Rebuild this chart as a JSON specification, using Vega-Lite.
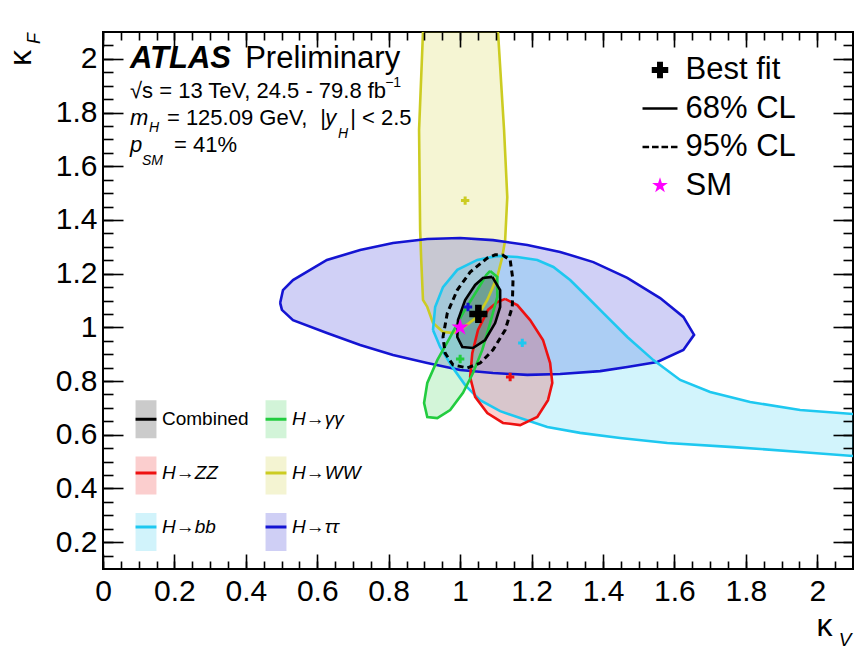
{
"$schema": "https://vega.github.io/schema/vega-lite/v6.json",
"width": 750, "height": 537,
"autosize": {"type": "none"},
"padding": {"left": 103, "top": 32, "right": 2, "bottom": 82},
"background": "white",
"config": {"font": "Liberation Sans", "view": {"stroke": "black", "strokeWidth": 2}, "axis": {"grid": false, "title": null}, "legend": {"title": null}},
"resolve": {"axis": {"x": "independent", "y": "independent"}},
"datasets": {
"keys": [{"key": "Best fit", "x": 1.051, "y": 1.05}, {"key": "SM", "x": 1.0, "y": 1.0}],
"fits": [
{"ch": "H→γγ", "x": 1.0, "y": 0.882},
{"ch": "H→ZZ", "x": 1.14, "y": 0.815},
{"ch": "H→WW", "x": 1.014, "y": 1.472},
{"ch": "H→bb", "x": 1.174, "y": 0.942},
{"ch": "H→ττ", "x": 1.022, "y": 1.076}],
"c95": [
{"i":0,"x":1.118,"y":1.27},{"i":1,"x":1.14,"y":1.251},{"i":2,"x":1.148,"y":1.176},{"i":3,"x":1.146,"y":1.076},{"i":4,"x":1.126,"y":0.99},{"i":5,"x":1.092,"y":0.916},{"i":6,"x":1.056,"y":0.867},{"i":7,"x":1.02,"y":0.849},{"i":8,"x":0.98,"y":0.86},{"i":9,"x":0.958,"y":0.904},{"i":10,"x":0.952,"y":0.964},{"i":11,"x":0.964,"y":1.053},{"i":12,"x":0.992,"y":1.139},{"i":13,"x":1.028,"y":1.206},{"i":14,"x":1.076,"y":1.258},{"i":15,"x":1.098,"y":1.27},{"i":16,"x":1.118,"y":1.27}],
"c68": [
{"ch":"H→WW","i":0,"x":0.9,"y":2.3},{"ch":"H→WW","i":1,"x":0.896,"y":2.1},{"ch":"H→WW","i":2,"x":0.885,"y":1.735},{"ch":"H→WW","i":3,"x":0.888,"y":1.363},{"ch":"H→WW","i":4,"x":0.891,"y":1.251},{"ch":"H→WW","i":5,"x":0.896,"y":1.102},{"ch":"H→WW","i":6,"x":0.908,"y":1.076},{"ch":"H→WW","i":7,"x":0.924,"y":1.016},{"ch":"H→WW","i":8,"x":0.952,"y":0.983},{"ch":"H→WW","i":9,"x":0.98,"y":0.979},{"ch":"H→WW","i":10,"x":1.008,"y":0.998},{"ch":"H→WW","i":11,"x":1.048,"y":1.039},{"ch":"H→WW","i":12,"x":1.076,"y":1.102},{"ch":"H→WW","i":13,"x":1.104,"y":1.188},{"ch":"H→WW","i":14,"x":1.118,"y":1.262},{"ch":"H→WW","i":15,"x":1.126,"y":1.325},{"ch":"H→WW","i":16,"x":1.132,"y":1.485},{"ch":"H→WW","i":17,"x":1.123,"y":1.735},{"ch":"H→WW","i":18,"x":1.106,"y":2.1},{"ch":"H→WW","i":19,"x":1.095,"y":2.3},{"ch":"H→WW","i":20,"x":0.9,"y":2.3},
{"ch":"H→ττ","i":0,"x":0.496,"y":1.091},{"ch":"H→ττ","i":1,"x":0.504,"y":1.139},{"ch":"H→ττ","i":2,"x":0.532,"y":1.176},{"ch":"H→ττ","i":3,"x":0.627,"y":1.251},{"ch":"H→ττ","i":4,"x":0.72,"y":1.288},{"ch":"H→ττ","i":5,"x":0.812,"y":1.314},{"ch":"H→ττ","i":6,"x":0.908,"y":1.329},{"ch":"H→ττ","i":7,"x":1.0,"y":1.333},{"ch":"H→ττ","i":8,"x":1.092,"y":1.325},{"ch":"H→ττ","i":9,"x":1.188,"y":1.307},{"ch":"H→ττ","i":10,"x":1.28,"y":1.281},{"ch":"H→ττ","i":11,"x":1.373,"y":1.243},{"ch":"H→ττ","i":12,"x":1.468,"y":1.184},{"ch":"H→ττ","i":13,"x":1.56,"y":1.109},{"ch":"H→ττ","i":14,"x":1.625,"y":1.039},{"ch":"H→ττ","i":15,"x":1.655,"y":0.972},{"ch":"H→ττ","i":16,"x":1.625,"y":0.916},{"ch":"H→ττ","i":17,"x":1.552,"y":0.871},{"ch":"H→ττ","i":18,"x":1.468,"y":0.852},{"ch":"H→ττ","i":19,"x":1.392,"y":0.837},{"ch":"H→ττ","i":20,"x":1.28,"y":0.826},{"ch":"H→ττ","i":21,"x":1.188,"y":0.823},{"ch":"H→ττ","i":22,"x":1.092,"y":0.83},{"ch":"H→ττ","i":23,"x":1.0,"y":0.841},{"ch":"H→ττ","i":24,"x":0.908,"y":0.867},{"ch":"H→ττ","i":25,"x":0.812,"y":0.897},{"ch":"H→ττ","i":26,"x":0.72,"y":0.934},{"ch":"H→ττ","i":27,"x":0.627,"y":0.979},{"ch":"H→ττ","i":28,"x":0.532,"y":1.027},{"ch":"H→ττ","i":29,"x":0.501,"y":1.065},{"ch":"H→ττ","i":30,"x":0.496,"y":1.091},
{"ch":"H→bb","i":0,"x":0.924,"y":0.99},{"ch":"H→bb","i":1,"x":0.93,"y":1.076},{"ch":"H→bb","i":2,"x":0.952,"y":1.15},{"ch":"H→bb","i":3,"x":0.992,"y":1.214},{"ch":"H→bb","i":4,"x":1.048,"y":1.251},{"ch":"H→bb","i":5,"x":1.104,"y":1.266},{"ch":"H→bb","i":6,"x":1.16,"y":1.262},{"ch":"H→bb","i":7,"x":1.216,"y":1.251},{"ch":"H→bb","i":8,"x":1.261,"y":1.225},{"ch":"H→bb","i":9,"x":1.308,"y":1.176},{"ch":"H→bb","i":10,"x":1.356,"y":1.113},{"ch":"H→bb","i":11,"x":1.401,"y":1.053},{"ch":"H→bb","i":12,"x":1.468,"y":0.964},{"ch":"H→bb","i":13,"x":1.541,"y":0.878},{"ch":"H→bb","i":14,"x":1.616,"y":0.804},{"ch":"H→bb","i":15,"x":1.7,"y":0.759},{"ch":"H→bb","i":16,"x":1.812,"y":0.722},{"ch":"H→bb","i":17,"x":1.952,"y":0.692},{"ch":"H→bb","i":18,"x":2.101,"y":0.677},{"ch":"H→bb","i":19,"x":2.25,"y":0.665},{"ch":"H→bb","i":20,"x":2.25,"y":0.515},{"ch":"H→bb","i":21,"x":2.101,"y":0.521},{"ch":"H→bb","i":22,"x":1.952,"y":0.536},{"ch":"H→bb","i":23,"x":1.765,"y":0.554},{"ch":"H→bb","i":24,"x":1.58,"y":0.569},{"ch":"H→bb","i":25,"x":1.448,"y":0.588},{"ch":"H→bb","i":26,"x":1.336,"y":0.607},{"ch":"H→bb","i":27,"x":1.244,"y":0.629},{"ch":"H→bb","i":28,"x":1.168,"y":0.662},{"ch":"H→bb","i":29,"x":1.112,"y":0.688},{"ch":"H→bb","i":30,"x":1.056,"y":0.729},{"ch":"H→bb","i":31,"x":1.014,"y":0.785},{"ch":"H→bb","i":32,"x":0.978,"y":0.852},{"ch":"H→bb","i":33,"x":0.944,"y":0.927},{"ch":"H→bb","i":34,"x":0.924,"y":0.99},
{"ch":"H→ZZ","i":0,"x":1.126,"y":1.106},{"ch":"H→ZZ","i":1,"x":1.16,"y":1.083},{"ch":"H→ZZ","i":2,"x":1.196,"y":1.027},{"ch":"H→ZZ","i":3,"x":1.232,"y":0.953},{"ch":"H→ZZ","i":4,"x":1.252,"y":0.867},{"ch":"H→ZZ","i":5,"x":1.258,"y":0.793},{"ch":"H→ZZ","i":6,"x":1.246,"y":0.729},{"ch":"H→ZZ","i":7,"x":1.216,"y":0.666},{"ch":"H→ZZ","i":8,"x":1.168,"y":0.636},{"ch":"H→ZZ","i":9,"x":1.12,"y":0.644},{"ch":"H→ZZ","i":10,"x":1.076,"y":0.681},{"ch":"H→ZZ","i":11,"x":1.042,"y":0.741},{"ch":"H→ZZ","i":12,"x":1.028,"y":0.815},{"ch":"H→ZZ","i":13,"x":1.034,"y":0.904},{"ch":"H→ZZ","i":14,"x":1.05,"y":0.99},{"ch":"H→ZZ","i":15,"x":1.078,"y":1.065},{"ch":"H→ZZ","i":16,"x":1.104,"y":1.094},{"ch":"H→ZZ","i":17,"x":1.126,"y":1.106},
{"ch":"H→γγ","i":0,"x":1.084,"y":1.21},{"ch":"H→γγ","i":1,"x":1.104,"y":1.188},{"ch":"H→γγ","i":2,"x":1.104,"y":1.113},{"ch":"H→γγ","i":3,"x":1.084,"y":1.016},{"ch":"H→γγ","i":4,"x":1.062,"y":0.916},{"ch":"H→γγ","i":5,"x":1.036,"y":0.83},{"ch":"H→γγ","i":6,"x":1.008,"y":0.756},{"ch":"H→γγ","i":7,"x":0.972,"y":0.692},{"ch":"H→γγ","i":8,"x":0.936,"y":0.662},{"ch":"H→γγ","i":9,"x":0.908,"y":0.666},{"ch":"H→γγ","i":10,"x":0.899,"y":0.718},{"ch":"H→γγ","i":11,"x":0.908,"y":0.793},{"ch":"H→γγ","i":12,"x":0.936,"y":0.878},{"ch":"H→γγ","i":13,"x":0.972,"y":0.964},{"ch":"H→γγ","i":14,"x":1.008,"y":1.053},{"ch":"H→γγ","i":15,"x":1.048,"y":1.139},{"ch":"H→γγ","i":16,"x":1.073,"y":1.195},{"ch":"H→γγ","i":17,"x":1.084,"y":1.21},
{"ch":"Combined","i":0,"x":1.09,"y":1.188},{"ch":"Combined","i":1,"x":1.112,"y":1.139},{"ch":"Combined","i":2,"x":1.112,"y":1.076},{"ch":"Combined","i":3,"x":1.098,"y":1.016},{"ch":"Combined","i":4,"x":1.07,"y":0.953},{"ch":"Combined","i":5,"x":1.036,"y":0.923},{"ch":"Combined","i":6,"x":1.006,"y":0.927},{"ch":"Combined","i":7,"x":0.992,"y":0.964},{"ch":"Combined","i":8,"x":0.994,"y":1.027},{"ch":"Combined","i":9,"x":1.014,"y":1.102},{"ch":"Combined","i":10,"x":1.042,"y":1.158},{"ch":"Combined","i":11,"x":1.064,"y":1.184},{"ch":"Combined","i":12,"x":1.09,"y":1.188}]
},
"layer": [
{"data": {"name": "keys"}, "mark": {"type": "point", "opacity": 0},
 "encoding": {
  "x": {"field": "x", "type": "quantitative", "scale": {"domain": [0, 2.1], "nice": false, "zero": false},
   "axis": {"orient": "bottom", "values": [0,0.2,0.4,0.6,0.8,1,1.2,1.4,1.6,1.8,2], "ticks": false, "domain": false, "labelFontSize": 30, "labelPadding": 7, "labelFlush": false, "labelOverlap": false, "format": "~g", "labelColor": "black", "zindex": 2}},
  "y": {"field": "y", "type": "quantitative", "scale": {"domain": [0.1, 2.1], "nice": false, "zero": false},
   "axis": {"orient": "left", "values": [0.2,0.4,0.6,0.8,1,1.2,1.4,1.6,1.8,2], "ticks": false, "domain": false, "labelFontSize": 30, "labelPadding": 6, "labelOverlap": false, "format": "~g", "labelColor": "black", "zindex": 2}}}},
{"data": {"name": "keys"}, "mark": {"type": "point", "opacity": 0},
 "encoding": {
  "x": {"field": "x", "type": "quantitative", "scale": {"domain": [0, 2.1], "nice": false, "zero": false},
   "axis": {"orient": "bottom", "offset": -15, "tickSize": 15, "values": [0,0.2,0.4,0.6,0.8,1,1.2,1.4,1.6,1.8,2], "labels": false, "domain": false, "tickColor": "black", "tickWidth": 1.6, "zindex": 2}},
  "y": {"field": "y", "type": "quantitative", "scale": {"domain": [0.1, 2.1], "nice": false, "zero": false},
   "axis": {"orient": "left", "offset": -20, "tickSize": 20, "values": [0.2,0.4,0.6,0.8,1,1.2,1.4,1.6,1.8,2], "labels": false, "domain": false, "tickColor": "black", "tickWidth": 1.6, "zindex": 2}}}},
{"data": {"name": "keys"}, "mark": {"type": "point", "opacity": 0},
 "encoding": {
  "x": {"field": "x", "type": "quantitative", "scale": {"domain": [0, 2.1], "nice": false, "zero": false},
   "axis": {"orient": "bottom", "offset": -8, "tickSize": 8, "values": [0,0.05,0.1,0.15,0.2,0.25,0.3,0.35,0.4,0.45,0.5,0.55,0.6,0.65,0.7,0.75,0.8,0.85,0.9,0.95,1,1.05,1.1,1.15,1.2,1.25,1.3,1.35,1.4,1.45,1.5,1.55,1.6,1.65,1.7,1.75,1.8,1.85,1.9,1.95,2,2.05], "labels": false, "domain": false, "tickColor": "black", "tickWidth": 1.6, "zindex": 2}},
  "y": {"field": "y", "type": "quantitative", "scale": {"domain": [0.1, 2.1], "nice": false, "zero": false},
   "axis": {"orient": "left", "offset": -10, "tickSize": 10, "values": [0.15,0.2,0.25,0.3,0.35,0.4,0.45,0.5,0.55,0.6,0.65,0.7,0.75,0.8,0.85,0.9,0.95,1,1.05,1.1,1.15,1.2,1.25,1.3,1.35,1.4,1.45,1.5,1.55,1.6,1.65,1.7,1.75,1.8,1.85,1.9,1.95,2,2.05], "labels": false, "domain": false, "tickColor": "black", "tickWidth": 1.6, "zindex": 2}}}},
{"data": {"name": "keys"}, "mark": {"type": "point", "opacity": 0},
 "encoding": {
  "x": {"field": "x", "type": "quantitative", "scale": {"domain": [0, 2.1], "nice": false, "zero": false},
   "axis": {"orient": "top", "offset": -15, "tickSize": 15, "values": [0,0.2,0.4,0.6,0.8,1,1.2,1.4,1.6,1.8,2], "labels": false, "domain": false, "tickColor": "black", "tickWidth": 1.6, "zindex": 2}},
  "y": {"field": "y", "type": "quantitative", "scale": {"domain": [0.1, 2.1], "nice": false, "zero": false},
   "axis": {"orient": "right", "offset": -20, "tickSize": 20, "values": [0.2,0.4,0.6,0.8,1,1.2,1.4,1.6,1.8,2], "labels": false, "domain": false, "tickColor": "black", "tickWidth": 1.6, "zindex": 2}}}},
{"data": {"name": "keys"}, "mark": {"type": "point", "opacity": 0},
 "encoding": {
  "x": {"field": "x", "type": "quantitative", "scale": {"domain": [0, 2.1], "nice": false, "zero": false},
   "axis": {"orient": "top", "offset": -8, "tickSize": 8, "values": [0,0.05,0.1,0.15,0.2,0.25,0.3,0.35,0.4,0.45,0.5,0.55,0.6,0.65,0.7,0.75,0.8,0.85,0.9,0.95,1,1.05,1.1,1.15,1.2,1.25,1.3,1.35,1.4,1.45,1.5,1.55,1.6,1.65,1.7,1.75,1.8,1.85,1.9,1.95,2,2.05], "labels": false, "domain": false, "tickColor": "black", "tickWidth": 1.6, "zindex": 2}},
  "y": {"field": "y", "type": "quantitative", "scale": {"domain": [0.1, 2.1], "nice": false, "zero": false},
   "axis": {"orient": "right", "offset": -10, "tickSize": 10, "values": [0.15,0.2,0.25,0.3,0.35,0.4,0.45,0.5,0.55,0.6,0.65,0.7,0.75,0.8,0.85,0.9,0.95,1,1.05,1.1,1.15,1.2,1.25,1.3,1.35,1.4,1.45,1.5,1.55,1.6,1.65,1.7,1.75,1.8,1.85,1.9,1.95,2,2.05], "labels": false, "domain": false, "tickColor": "black", "tickWidth": 1.6, "zindex": 2}}}},
{"data": {"name": "c68"}, "mark": {"type": "line", "clip": true, "fillOpacity": 0.2, "stroke": "transparent", "strokeWidth": 0},
 "encoding": {
  "x": {"field": "x", "type": "quantitative", "scale": {"domain": [0, 2.1], "nice": false, "zero": false}, "axis": null},
  "y": {"field": "y", "type": "quantitative", "scale": {"domain": [0.1, 2.1], "nice": false, "zero": false}, "axis": null},
  "detail": {"field": "ch"},
  "order": {"field": "i", "type": "quantitative"},
  "fill": {"field": "ch", "type": "nominal",
   "scale": {"domain": ["Combined", "H→ZZ", "H→bb", "H→γγ", "H→WW", "H→ττ"], "range": ["#000000", "#ee1111", "#1ec8f0", "#22cc3f", "#cccc22", "#1414d2"]},
   "legend": {"orient": "none", "legendX": 22.5, "legendY": 366.5, "columns": 2, "columnPadding": 6, "rowPadding": 5.5, "symbolType": "M-0.55,-1H0.55V1H-0.55Z", "symbolSize": 1444, "symbolStrokeWidth": 3, "symbolStrokeColor": "transparent", "symbolOpacity": 0.2, "labelFontSize": 19, "labelOffset": -4.5, "labelOpacity": 0, "padding": 0}}}},
{"data": {"name": "c68"}, "mark": {"type": "line", "clip": true, "strokeWidth": 2.6},
 "encoding": {
  "x": {"field": "x", "type": "quantitative", "scale": {"domain": [0, 2.1], "nice": false, "zero": false}, "axis": null},
  "y": {"field": "y", "type": "quantitative", "scale": {"domain": [0.1, 2.1], "nice": false, "zero": false}, "axis": null},
  "detail": {"field": "ch"},
  "order": {"field": "i", "type": "quantitative"},
  "stroke": {"field": "ch", "type": "nominal",
   "scale": {"domain": ["H→ττ", "H→WW", "H→γγ", "H→bb", "H→ZZ", "Combined"], "range": ["#1414d2", "#cccc22", "#22cc3f", "#1ec8f0", "#ee1111", "#000000"]},
   "legend": {"orient": "none", "legendX": 22.5, "legendY": 366.5, "values": ["Combined", "H→ZZ", "H→bb", "H→γγ", "H→WW", "H→ττ"], "columns": 2, "columnPadding": 6, "rowPadding": 23, "symbolType": "M-0.55,0H0.55", "symbolSize": 1444, "symbolStrokeWidth": 3, "labelFontSize": 19, "labelOffset": -4.5, "labelColor": "black", "padding": 0,
    "encode": {"labels": {"update": {"fontStyle": {"signal": "datum.label === 'Combined' ? 'normal' : 'italic'"}}}}}}}},
{"data": {"name": "c95"}, "mark": {"type": "line", "clip": true, "stroke": "black", "strokeWidth": 3, "strokeDash": [6, 4]},
 "encoding": {
  "x": {"field": "x", "type": "quantitative", "scale": {"domain": [0, 2.1], "nice": false, "zero": false}, "axis": null},
  "y": {"field": "y", "type": "quantitative", "scale": {"domain": [0.1, 2.1], "nice": false, "zero": false}, "axis": null},
  "order": {"field": "i", "type": "quantitative"}}},
{"data": {"name": "fits"}, "mark": {"type": "point", "filled": true, "opacity": 1, "size": 70, "shape": "M-0.36,-1H0.36V-0.36H1V0.36H0.36V1H-0.36V0.36H-1V-0.36H-0.36Z"},
 "encoding": {
  "x": {"field": "x", "type": "quantitative", "scale": {"domain": [0, 2.1], "nice": false, "zero": false}, "axis": null},
  "y": {"field": "y", "type": "quantitative", "scale": {"domain": [0.1, 2.1], "nice": false, "zero": false}, "axis": null},
  "fill": {"field": "ch", "type": "nominal", "legend": null,
   "scale": {"domain": ["Combined", "H→ZZ", "H→bb", "H→γγ", "H→WW", "H→ττ"], "range": ["#000000", "#ee1111", "#1ec8f0", "#22cc3f", "#cccc22", "#1414d2"]}}}},
{"data": {"name": "keys"}, "mark": {"type": "point", "filled": true, "opacity": 1, "size": 330},
 "encoding": {
  "x": {"field": "x", "type": "quantitative", "scale": {"domain": [0, 2.1], "nice": false, "zero": false}, "axis": null},
  "y": {"field": "y", "type": "quantitative", "scale": {"domain": [0.1, 2.1], "nice": false, "zero": false}, "axis": null},
  "shape": {"field": "key", "type": "nominal",
   "scale": {"domain": ["Best fit", "68% CL", "95% CL", "SM"], "range": ["M-0.36,-1H0.36V-0.36H1V0.36H0.36V1H-0.36V0.36H-1V-0.36H-0.36Z", "M-2.12,-0.15H2.12V0.15H-2.12Z", "M-2.12,-0.15H-1.32V0.15H-2.12ZM-0.97,-0.15H-0.17V0.15H-0.97ZM0.18,-0.15H0.98V0.15H0.18ZM1.33,-0.15H2.12V0.15H1.33Z", "M0,-1L0.2245,-0.309L0.951,-0.309L0.363,0.118L0.588,0.809L0,0.382L-0.588,0.809L-0.363,0.118L-0.951,-0.309L-0.2245,-0.309Z"]},
   "legend": {"orient": "none", "legendX": 541.5, "legendY": 22.5, "symbolSize": 272, "symbolStrokeWidth": 2.5, "labelFontSize": 31, "labelOffset": 10, "rowPadding": 6.5, "labelColor": "black", "padding": 0}},
  "color": {"field": "key", "type": "nominal",
   "scale": {"domain": ["Best fit", "68% CL", "95% CL", "SM"], "range": ["#000000", "#000000", "#000000", "#ff00ff"]},
   "legend": {"orient": "none", "legendX": 541.5, "legendY": 22.5, "symbolSize": 272, "symbolStrokeWidth": 2.5, "labelFontSize": 31, "labelOffset": 10, "rowPadding": 6.5, "labelColor": "black", "padding": 0}}}},
{"data": {"values": [{}]}, "mark": {"type": "text", "text": "ATLAS", "fontSize": 31, "fontStyle": "italic", "fontWeight": "bold", "align": "left", "baseline": "alphabetic", "color": "black"},
 "encoding": {"x": {"datum": 0.0756, "type": "quantitative", "axis": null}, "y": {"datum": 1.966, "type": "quantitative", "axis": null}}},
{"data": {"values": [{}]}, "mark": {"type": "text", "text": "Preliminary", "fontSize": 31, "align": "left", "baseline": "alphabetic", "color": "black"},
 "encoding": {"x": {"datum": 0.398, "type": "quantitative", "axis": null}, "y": {"datum": 1.966, "type": "quantitative", "axis": null}}},
{"data": {"values": [{}]}, "mark": {"type": "text", "text": "√s = 13 TeV, 24.5 - 79.8 fb", "fontSize": 22, "align": "left", "baseline": "alphabetic", "color": "black"},
 "encoding": {"x": {"datum": 0.0756, "type": "quantitative", "axis": null}, "y": {"datum": 1.854, "type": "quantitative", "axis": null}}},
{"data": {"values": [{}]}, "mark": {"type": "text", "text": "−1", "fontSize": 14, "align": "left", "baseline": "alphabetic", "color": "black"},
 "encoding": {"x": {"datum": 0.79, "type": "quantitative", "axis": null}, "y": {"datum": 1.895, "type": "quantitative", "axis": null}}},
{"data": {"values": [{}]}, "mark": {"type": "text", "text": "m", "fontSize": 22, "fontStyle": "italic", "align": "left", "baseline": "alphabetic", "color": "black"},
 "encoding": {"x": {"datum": 0.0756, "type": "quantitative", "axis": null}, "y": {"datum": 1.754, "type": "quantitative", "axis": null}}},
{"data": {"values": [{}]}, "mark": {"type": "text", "text": "H", "fontSize": 14, "fontStyle": "italic", "align": "left", "baseline": "alphabetic", "color": "black"},
 "encoding": {"x": {"datum": 0.129, "type": "quantitative", "axis": null}, "y": {"datum": 1.728, "type": "quantitative", "axis": null}}},
{"data": {"values": [{}]}, "mark": {"type": "text", "text": "= 125.09 GeV,", "fontSize": 22, "align": "left", "baseline": "alphabetic", "color": "black"},
 "encoding": {"x": {"datum": 0.179, "type": "quantitative", "axis": null}, "y": {"datum": 1.754, "type": "quantitative", "axis": null}}},
{"data": {"values": [{}]}, "mark": {"type": "text", "text": "|", "fontSize": 22, "align": "left", "baseline": "alphabetic", "color": "black"},
 "encoding": {"x": {"datum": 0.608, "type": "quantitative", "axis": null}, "y": {"datum": 1.754, "type": "quantitative", "axis": null}}},
{"data": {"values": [{}]}, "mark": {"type": "text", "text": "y", "fontSize": 22, "fontStyle": "italic", "align": "left", "baseline": "alphabetic", "color": "black"},
 "encoding": {"x": {"datum": 0.622, "type": "quantitative", "axis": null}, "y": {"datum": 1.754, "type": "quantitative", "axis": null}}},
{"data": {"values": [{}]}, "mark": {"type": "text", "text": "H", "fontSize": 14, "fontStyle": "italic", "align": "left", "baseline": "alphabetic", "color": "black"},
 "encoding": {"x": {"datum": 0.658, "type": "quantitative", "axis": null}, "y": {"datum": 1.705, "type": "quantitative", "axis": null}}},
{"data": {"values": [{}]}, "mark": {"type": "text", "text": "| < 2.5", "fontSize": 22, "align": "left", "baseline": "alphabetic", "color": "black"},
 "encoding": {"x": {"datum": 0.692, "type": "quantitative", "axis": null}, "y": {"datum": 1.754, "type": "quantitative", "axis": null}}},
{"data": {"values": [{}]}, "mark": {"type": "text", "text": "p", "fontSize": 22, "fontStyle": "italic", "align": "left", "baseline": "alphabetic", "color": "black"},
 "encoding": {"x": {"datum": 0.0756, "type": "quantitative", "axis": null}, "y": {"datum": 1.653, "type": "quantitative", "axis": null}}},
{"data": {"values": [{}]}, "mark": {"type": "text", "text": "SM", "fontSize": 14, "fontStyle": "italic", "align": "left", "baseline": "alphabetic", "color": "black"},
 "encoding": {"x": {"datum": 0.109, "type": "quantitative", "axis": null}, "y": {"datum": 1.605, "type": "quantitative", "axis": null}}},
{"data": {"values": [{}]}, "mark": {"type": "text", "text": "= 41%", "fontSize": 22, "align": "left", "baseline": "alphabetic", "color": "black"},
 "encoding": {"x": {"datum": 0.199, "type": "quantitative", "axis": null}, "y": {"datum": 1.653, "type": "quantitative", "axis": null}}},
{"data": {"values": [{}]}, "mark": {"type": "text", "text": "κ", "fontSize": 32, "align": "center", "baseline": "alphabetic", "color": "black"},
 "encoding": {"x": {"datum": 2.02, "type": "quantitative", "axis": null}, "y": {"datum": -0.15, "type": "quantitative", "axis": null}}},
{"data": {"values": [{}]}, "mark": {"type": "text", "text": "V", "fontSize": 19, "fontStyle": "italic", "align": "center", "baseline": "alphabetic", "color": "black"},
 "encoding": {"x": {"datum": 2.078, "type": "quantitative", "axis": null}, "y": {"datum": -0.187, "type": "quantitative", "axis": null}}},
{"data": {"values": [{}]}, "mark": {"type": "text", "text": "κ", "fontSize": 32, "angle": 270, "align": "center", "baseline": "alphabetic", "color": "black"},
 "encoding": {"x": {"datum": -0.2017, "type": "quantitative", "axis": null}, "y": {"datum": 2.003, "type": "quantitative", "axis": null}}},
{"data": {"values": [{}]}, "mark": {"type": "text", "text": "F", "fontSize": 18, "fontStyle": "italic", "angle": 270, "align": "center", "baseline": "alphabetic", "color": "black"},
 "encoding": {"x": {"datum": -0.1765, "type": "quantitative", "axis": null}, "y": {"datum": 2.076, "type": "quantitative", "axis": null}}}
]
}
